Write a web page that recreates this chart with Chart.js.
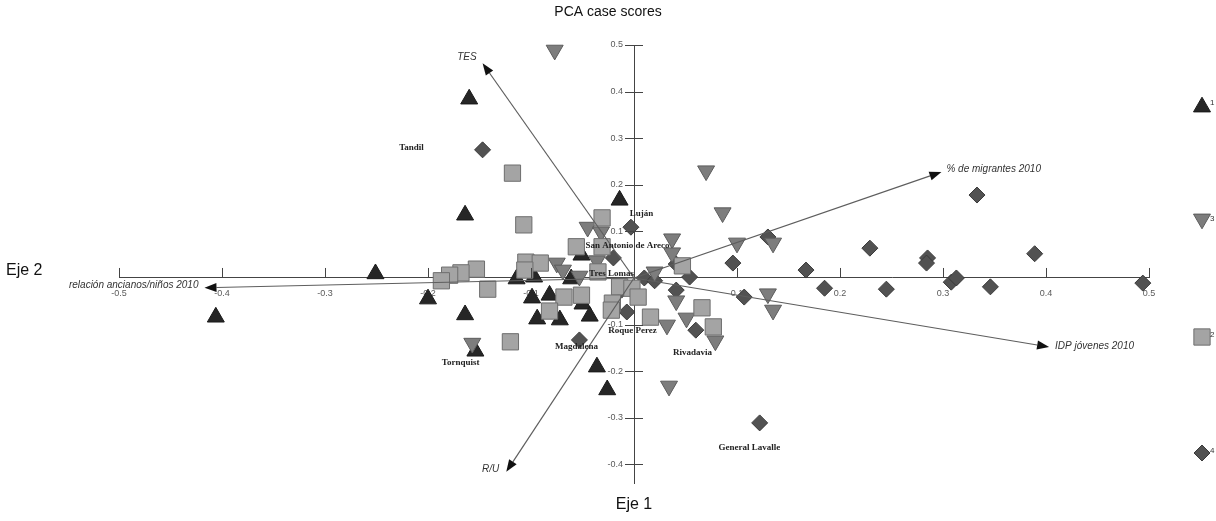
<!DOCTYPE html>
<html><head><meta charset="utf-8">
<script src="https://cdn.jsdelivr.net/npm/chart.js@4"></script>
<style>html,body{margin:0;padding:0;background:#fff;overflow:hidden}#wrap{width:1216px;height:521px}</style>
</head><body><div id="wrap"><canvas id="c" width="1216" height="521"></canvas></div>
<script>
// ---- data ----
const chartTitle = 'PCA case scores';
const xTicks = [-0.5,-0.4,-0.3,-0.2,-0.1,0.1,0.2,0.3,0.4,0.5];
const yTicks = [-0.4,-0.3,-0.2,-0.1,0.1,0.2,0.3,0.4,0.5];
const legendLabels = ['1','3','2','4'];

const group1 = [[-0.160,0.384],[-0.164,0.135],[-0.014,0.167],[-0.051,0.049],[-0.251,0.009],[-0.406,-0.084],[-0.200,-0.045],[-0.164,-0.079],[-0.154,-0.157],[-0.114,-0.002],[-0.097,0.002],[-0.061,-0.002],[-0.099,-0.043],[-0.082,-0.037],[-0.050,-0.056],[-0.094,-0.088],[-0.072,-0.090],[-0.043,-0.082],[-0.036,-0.191],[-0.026,-0.240]];
const group3 = [[-0.077,0.489],[0.070,0.230],[0.086,0.140],[-0.045,0.109],[-0.032,0.099],[0.037,0.084],[0.037,0.054],[0.100,0.075],[0.135,0.075],[-0.075,0.032],[-0.036,0.037],[-0.069,0.017],[-0.053,0.004],[0.041,-0.049],[0.051,-0.086],[0.032,-0.101],[0.079,-0.135],[0.034,-0.232],[0.130,-0.034],[0.135,-0.069],[-0.157,-0.140],[0.020,0.013]];
const group2 = [[-0.118,0.225],[-0.107,0.114],[-0.031,0.129],[-0.056,0.067],[-0.031,0.067],[-0.105,0.034],[-0.091,0.032],[-0.153,0.019],[-0.168,0.011],[-0.179,0.006],[-0.187,-0.006],[-0.142,-0.024],[-0.068,-0.041],[-0.051,-0.037],[-0.082,-0.071],[-0.120,-0.137],[-0.014,-0.019],[-0.002,-0.022],[0.004,-0.041],[-0.021,-0.054],[-0.022,-0.069],[0.016,-0.084],[0.066,-0.064],[0.077,-0.105],[0.047,0.026],[-0.106,0.017],[-0.035,0.013]];
const group4 = [[-0.147,0.275],[-0.003,0.109],[-0.020,0.043],[0.041,0.030],[0.096,0.032],[0.130,0.088],[0.167,0.017],[0.185,-0.022],[0.229,0.064],[0.333,0.178],[0.285,0.043],[0.284,0.032],[0.389,0.052],[0.245,-0.024],[0.308,-0.009],[0.313,0.000],[0.346,-0.019],[0.494,-0.011],[0.107,-0.041],[0.122,-0.311],[-0.053,-0.133],[0.060,-0.112],[-0.007,-0.073],[-0.012,-0.026],[0.041,-0.026],[0.054,0.002],[0.010,0.000],[0.020,-0.006]];

const vectorNames = ['TES','% de migrantes 2010','IDP jóvenes 2010','R/U','relación ancianos/niños 2010'];
const vectorX = [-0.147, 0.2985, 0.403, -0.124, -0.417];
const vectorY = [0.461, 0.2275, -0.148, -0.416, -0.021];

const cityNames = ['Tandil','Luján','San Antonio de Areco','Tres Lomas','Roque Perez','Magdalena','Rivadavia','Tornquist','General Lavalle'];
const cityX = [-0.216, 0.0073, -0.0063, -0.0218, -0.0015, -0.0558, 0.0568, -0.1684, 0.1121];
const cityY = [0.279, 0.1373, 0.0687, 0.0086, -0.1137, -0.148, -0.161, -0.1824, -0.3648];

// ---- styles ----
const groupStyles = [
  {data: group1, pointStyle:'triangle', radius:9.8, rotation:0,   bg:'#262626', border:'#1a1a1a'},
  {data: group3, pointStyle:'triangle', radius:9.8, rotation:180, bg:'#7d7d7d', border:'#5c5c5c'},
  {data: group2, pointStyle:'rect',     radius:11.5, rotation:0,  bg:'#a4a4a4', border:'#6e6e6e'},
  {data: group4, pointStyle:'rectRot',  radius:8, rotation:0, bg:'#525252', border:'#3a3a3a'}
];
const drawOrder = [2,1,3,0];
const vectorLabelStyle = [
  {align:'right', dx:-6, dy:-6},
  {align:'left', dx:5, dy:-3},
  {align:'left', dx:6, dy:-1},
  {align:'right', dx:-7, dy:-3},
  {align:'right', dx:-6, dy:-3}
];

function fmt(v){ return (Math.round(v*10)/10).toFixed(1); }

const overlay = {
  id:'overlay',
  beforeDatasetsDraw(chart){
    const {ctx, scales:{x, y}} = chart;
    const x0 = x.getPixelForValue(0), y0 = y.getPixelForValue(0);
    ctx.save();
    ctx.font = '9px "Liberation Sans", Arial, sans-serif';
    ctx.fillStyle = '#5a5a5a';
    ctx.textAlign = 'center'; ctx.textBaseline = 'middle';
    xTicks.forEach(v => ctx.fillText(fmt(v), x.getPixelForValue(v), y0 + 16));
    ctx.textAlign = 'right';
    yTicks.forEach(v => ctx.fillText(fmt(v), x0 - 11, y.getPixelForValue(v)));
    ctx.restore();
  },
  afterDatasetsDraw(chart){
    const {ctx, scales:{x, y}} = chart;
    const x0 = x.getPixelForValue(0), y0 = y.getPixelForValue(0);
    ctx.save();
    ctx.strokeStyle = '#444'; ctx.lineWidth = 1;
    ctx.beginPath();
    xTicks.forEach(v => { const px = Math.round(x.getPixelForValue(v)) + 0.5; ctx.moveTo(px, y0 - 10); ctx.lineTo(px, y0); });
    yTicks.forEach(v => { const py = Math.round(y.getPixelForValue(v)) + 0.5; ctx.moveTo(x0 - 9, py); ctx.lineTo(x0 + 9, py); });
    ctx.stroke();
    vectorNames.forEach((name, i) => {
      const tx = x.getPixelForValue(vectorX[i]), ty = y.getPixelForValue(vectorY[i]);
      const ang = Math.atan2(ty - y0, tx - x0);
      const L = 12, W = 4.5;
      const bx = tx - L*Math.cos(ang), by = ty - L*Math.sin(ang);
      ctx.strokeStyle = '#5e5e5e'; ctx.lineWidth = 1.2;
      ctx.beginPath(); ctx.moveTo(x0, y0); ctx.lineTo(bx, by); ctx.stroke();
      ctx.fillStyle = '#111';
      ctx.beginPath();
      ctx.moveTo(tx, ty);
      ctx.lineTo(bx - W*Math.sin(ang), by + W*Math.cos(ang));
      ctx.lineTo(bx + W*Math.sin(ang), by - W*Math.cos(ang));
      ctx.closePath(); ctx.fill();
      const st = vectorLabelStyle[i];
      ctx.font = 'italic 10px "Liberation Sans", Arial, sans-serif';
      ctx.fillStyle = '#333';
      ctx.textAlign = st.align; ctx.textBaseline = 'middle';
      ctx.fillText(name, tx + st.dx, ty + st.dy);
    });
    ctx.font = 'bold 9px "Liberation Serif", "Times New Roman", serif';
    ctx.fillStyle = '#222';
    ctx.textAlign = 'center'; ctx.textBaseline = 'middle';
    cityNames.forEach((n, i) => ctx.fillText(n, x.getPixelForValue(cityX[i]), y.getPixelForValue(cityY[i])));
    ctx.restore();
  },
  afterDraw(chart){
    const {ctx, scales:{x}} = chart;
    ctx.save();
    ctx.textBaseline = 'middle';
    ctx.fillStyle = '#111';
    ctx.font = '14px "Liberation Sans", Arial, sans-serif';
    ctx.textAlign = 'center';
    ctx.fillText(chartTitle, chart.width / 2, 12);
    ctx.font = '16px "Liberation Sans", Arial, sans-serif';
    ctx.textAlign = 'left';
    ctx.fillText('Eje 2', 6, 271);
    ctx.textAlign = 'center';
    ctx.fillText('Eje 1', x.getPixelForValue(0), 505);
    [0,1,2,3].forEach((gi, k) => {
      const g = groupStyles[gi];
      const ly = 105 + k*116;
      ctx.fillStyle = g.bg; ctx.strokeStyle = g.border; ctx.lineWidth = 1;
      Chart.helpers.drawPoint(ctx, {pointStyle:g.pointStyle, radius:g.radius, rotation:g.rotation, borderWidth:1}, 1202, ly + (gi===0?2:gi===1?-2:0));
      ctx.fillStyle = '#333';
      ctx.font = '8px "Liberation Sans", Arial, sans-serif';
      ctx.textAlign = 'left';
      ctx.fillText(legendLabels[k], 1210, ly - 2);
    });
    ctx.restore();
  }
};

const datasets = drawOrder.map(i => {
  const g = groupStyles[i];
  return {
    label: legendLabels[[0,2,1,3].indexOf(i)],
    data: g.data.map(p => ({x:p[0], y:p[1]})),
    pointStyle: g.pointStyle,
    pointRadius: g.radius,
    pointHoverRadius: g.radius,
    pointRotation: g.rotation,
    backgroundColor: g.bg,
    borderColor: g.border,
    borderWidth: 1,
    clip: false
  };
});

new Chart(document.getElementById('c'), {
  type: 'scatter',
  data: {datasets},
  plugins: [overlay],
  options: {
    responsive: false,
    animation: false,
    events: [],
    layout: {padding: {left:119, right:67, top:45, bottom:38}},
    plugins: {
      legend: {display:false},
      tooltip: {enabled:false},
      title: {display:false}
    },
    scales: {
      x: {type:'linear', min:-0.5, max:0.5, position:{y:0}, z:1,
          grid:{display:false, drawTicks:false}, ticks:{display:false},
          border:{display:true, color:'#444', width:1}},
      y: {type:'linear', min:-0.44, max:0.5, position:{x:0}, z:1,
          grid:{display:false, drawTicks:false}, ticks:{display:false},
          border:{display:true, color:'#444', width:1}}
    }
  }
});
</script></body></html>
